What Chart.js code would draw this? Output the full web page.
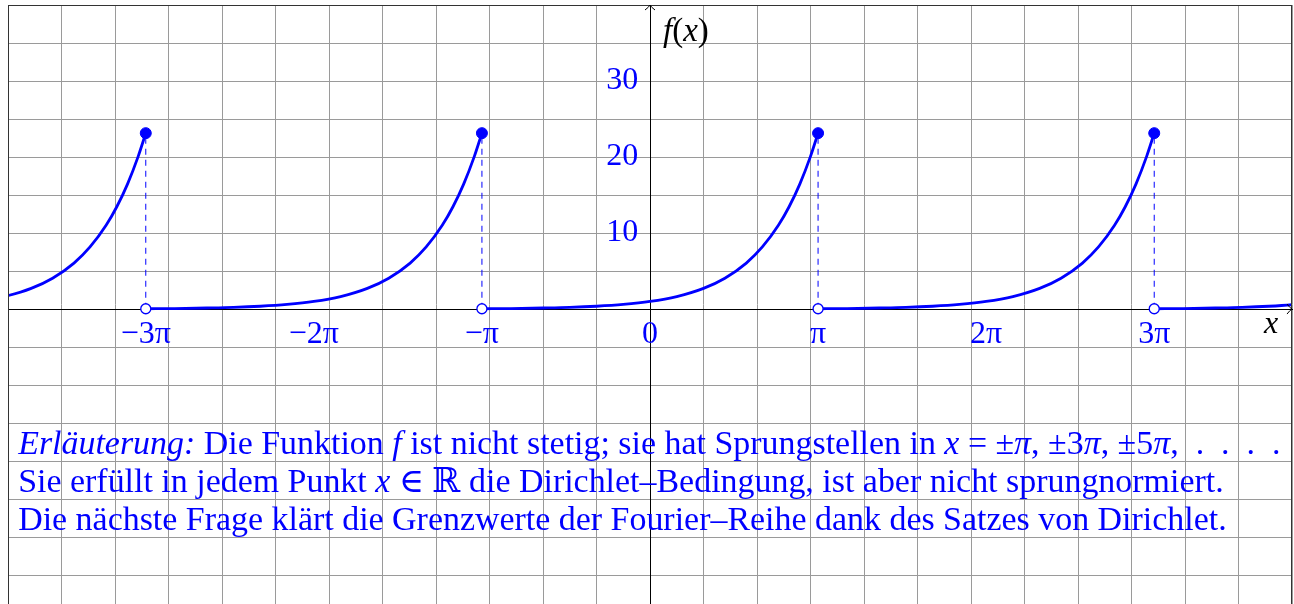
<!DOCTYPE html>
<html>
<head>
<meta charset="utf-8">
<script src="https://cdn.jsdelivr.net/npm/chart.js@4.4.0/dist/chart.umd.min.js"></script>
<style>
html, body { margin: 0; padding: 0; background: #fff; }
#wrap { width: 1294px; height: 604px; }
</style>
</head>
<body>
<div id="wrap"><canvas id="fourierChart"></canvas></div>
<script>
const PI = Math.PI;

// one period of the curve: x offset from the period centre, y
const phaseX = [-3.1416, -2.6, -2.0, -1.5, -1.0, -0.5, 0, 0.5, 1.0, 1.4, 1.8, 2.1, 2.4, 2.6, 2.8, 3.0, 3.1416];
const phaseY = [0.04, 0.07, 0.14, 0.22, 0.37, 0.61, 1.0, 1.65, 2.72, 4.06, 6.05, 8.17, 11.02, 13.46, 16.44, 20.09, 23.14];
const periodCentres = [-4 * PI, -2 * PI, 0, 2 * PI, 4 * PI];

// jump points
const jumpX = [-3 * PI, -PI, PI, 3 * PI];
const jumpTop = 23.14;
const jumpBottom = 0.04;

// tick labels
const piTicks = [-3, -2, -1, 0, 1, 2, 3];
const piTickLabels = ['−3π', '−2π', '−π', '0', 'π', '2π', '3π'];
const yTickLabels = [10, 20, 30];

const textLines = [
    [['Erläuterung:', true], [' Die Funktion ', false], ['f', true], [' ist nicht stetig; sie hat Sprungstellen in ', false],
     ['x', true], [' = ±', false], ['π', true], [', ±3', false], ['π', true], [', ±5', false], ['π', true], [',\u2002.\u2002.\u2002.\u2002.', false]],
    [['Sie erfüllt in jedem Punkt ', false], ['x', true], [' ∈ ℝ die Dirichlet–Bedingung, ist aber nicht sprungnormiert.', false]],
    [['Die nächste Frage klärt die Grenzwerte der Fourier–Reihe dank des Satzes von Dirichlet.', false]]
];
const textBaselines = [-19.1, -24.1, -29.1];

const BLUE = '#0000ff';
const FONT = '"Liberation Serif", "DejaVu Serif", serif';
const GRID = '#9a9a9a';

const datasets = [];

periodCentres.forEach(c => {
    datasets.push({
        data: phaseX.map((p, i) => ({ x: p + c, y: phaseY[i] })),
        showLine: true,
        borderColor: BLUE,
        borderWidth: 2.8,
        pointRadius: 0,
        cubicInterpolationMode: 'monotone',
        order: 1
    });
});

jumpX.forEach(x => {
    datasets.push({
        data: [{ x: x, y: jumpBottom }, { x: x, y: jumpTop }],
        showLine: true,
        borderColor: BLUE,
        borderWidth: 1,
        borderDash: [6, 5],
        pointRadius: 0,
        order: 2
    });
});

datasets.push({
    data: jumpX.map(x => ({ x: x, y: jumpTop })),
    showLine: false,
    pointRadius: 5.5,
    pointBackgroundColor: BLUE,
    pointBorderColor: BLUE,
    order: 0
});

datasets.push({
    data: jumpX.map(x => ({ x: x, y: jumpBottom })),
    showLine: false,
    pointRadius: 5,
    pointBorderWidth: 1.3,
    pointBackgroundColor: '#ffffff',
    pointBorderColor: BLUE,
    order: 0
});

function fontFor(italic, size) {
    return (italic ? 'italic ' : '') + size + 'px ' + FONT;
}

function drawPieces(ctx, pieces, x, y, size, color) {
    ctx.fillStyle = color;
    pieces.forEach(([s, it]) => {
        ctx.font = fontFor(it, size);
        ctx.fillText(s, x, y);
        x += ctx.measureText(s).width;
    });
}

// the label axes sit inside the plot, so they should not push the plot area in
function noPadding(scale) {
    scale.paddingTop = 0;
    scale.paddingBottom = 0;
    scale.paddingLeft = 0;
    scale.paddingRight = 0;
}

const extrasPlugin = {
    id: 'extras',
    afterDraw(chart) {
        const ctx = chart.ctx;
        const area = chart.chartArea;
        const xs = chart.scales.x;
        const ys = chart.scales.y;
        const x0 = xs.getPixelForValue(0);
        const y0 = ys.getPixelForValue(0);

        ctx.save();

        // frame
        ctx.strokeStyle = '#333';
        ctx.lineWidth = 1;
        ctx.strokeRect(area.left + 0.5, area.top + 0.5, area.right - area.left - 1, area.bottom - area.top);

        // arrow heads
        ctx.strokeStyle = '#000';
        ctx.beginPath();
        ctx.moveTo(x0 - 5, area.top + 5);
        ctx.quadraticCurveTo(x0 - 1, area.top + 2, x0, area.top);
        ctx.quadraticCurveTo(x0 + 1, area.top + 2, x0 + 5, area.top + 5);
        ctx.moveTo(area.right - 5, y0 - 5);
        ctx.quadraticCurveTo(area.right - 2, y0 - 1, area.right, y0);
        ctx.quadraticCurveTo(area.right - 2, y0 + 1, area.right - 5, y0 + 5);
        ctx.stroke();

        // axis names
        ctx.textBaseline = 'alphabetic';
        drawPieces(ctx, [['f', true], ['(', false], ['x', true], [')', false]], x0 + 13, area.top + 36, 33, '#000');
        drawPieces(ctx, [['x', true]], area.right - 28, y0 + 24, 32, '#000');

        // note text, size fitted to the width of the last line
        ctx.font = fontFor(false, 100);
        const w100 = ctx.measureText(textLines[2][0][0]).width;
        const size = 100 * 1209 / w100;
        const left = xs.getPixelForValue(-11.81);
        textBaselines.forEach((yv, li) => {
            drawPieces(ctx, textLines[li], left, ys.getPixelForValue(yv), size, BLUE);
        });

        ctx.restore();
    }
};

const ctx = document.getElementById('fourierChart').getContext('2d');

new Chart(ctx, {
    type: 'scatter',
    data: { datasets: datasets },
    options: {
        responsive: true,
        maintainAspectRatio: false,
        animation: false,
        layout: { autoPadding: false, padding: { left: 8, top: 5, right: 2, bottom: 0 } },
        plugins: {
            legend: { display: false },
            tooltip: { enabled: false }
        },
        scales: {
            x: {
                type: 'linear',
                min: -12,
                max: 12,
                position: { y: 0 },
                ticks: { stepSize: 1, display: false },
                grid: { color: GRID, lineWidth: 1, drawTicks: false },
                border: { color: '#000', width: 1 },
                afterFit: noPadding
            },
            y: {
                type: 'linear',
                min: -38.8,
                max: 40,
                position: { x: 0 },
                ticks: { stepSize: 5, display: false },
                grid: { color: GRID, lineWidth: 1, drawTicks: false },
                border: { color: '#000', width: 1 },
                afterFit: noPadding
            },
            xPi: {
                type: 'linear',
                axis: 'x',
                min: -12,
                max: 12,
                position: { y: 0 },
                afterBuildTicks: scale => {
                    scale.ticks = piTicks.map(k => ({ value: k * PI }));
                },
                afterFit: noPadding,
                grid: { display: false, drawTicks: false },
                border: { display: false },
                ticks: {
                    autoSkip: false,
                    maxRotation: 0,
                    padding: 6,
                    color: BLUE,
                    font: { family: FONT, size: 32 },
                    callback: (v, i) => piTickLabels[i]
                }
            },
            yLab: {
                type: 'linear',
                axis: 'y',
                min: -38.8,
                max: 40,
                // labels end a little left of the y axis
                position: { x: -0.22 },
                afterBuildTicks: scale => {
                    scale.ticks = yTickLabels.map(v => ({ value: v }));
                },
                afterFit: noPadding,
                grid: { display: false, drawTicks: false },
                border: { display: false },
                ticks: {
                    autoSkip: false,
                    color: BLUE,
                    font: { family: FONT, size: 32 }
                }
            }
        }
    },
    plugins: [extrasPlugin]
});
</script>
</body>
</html>
